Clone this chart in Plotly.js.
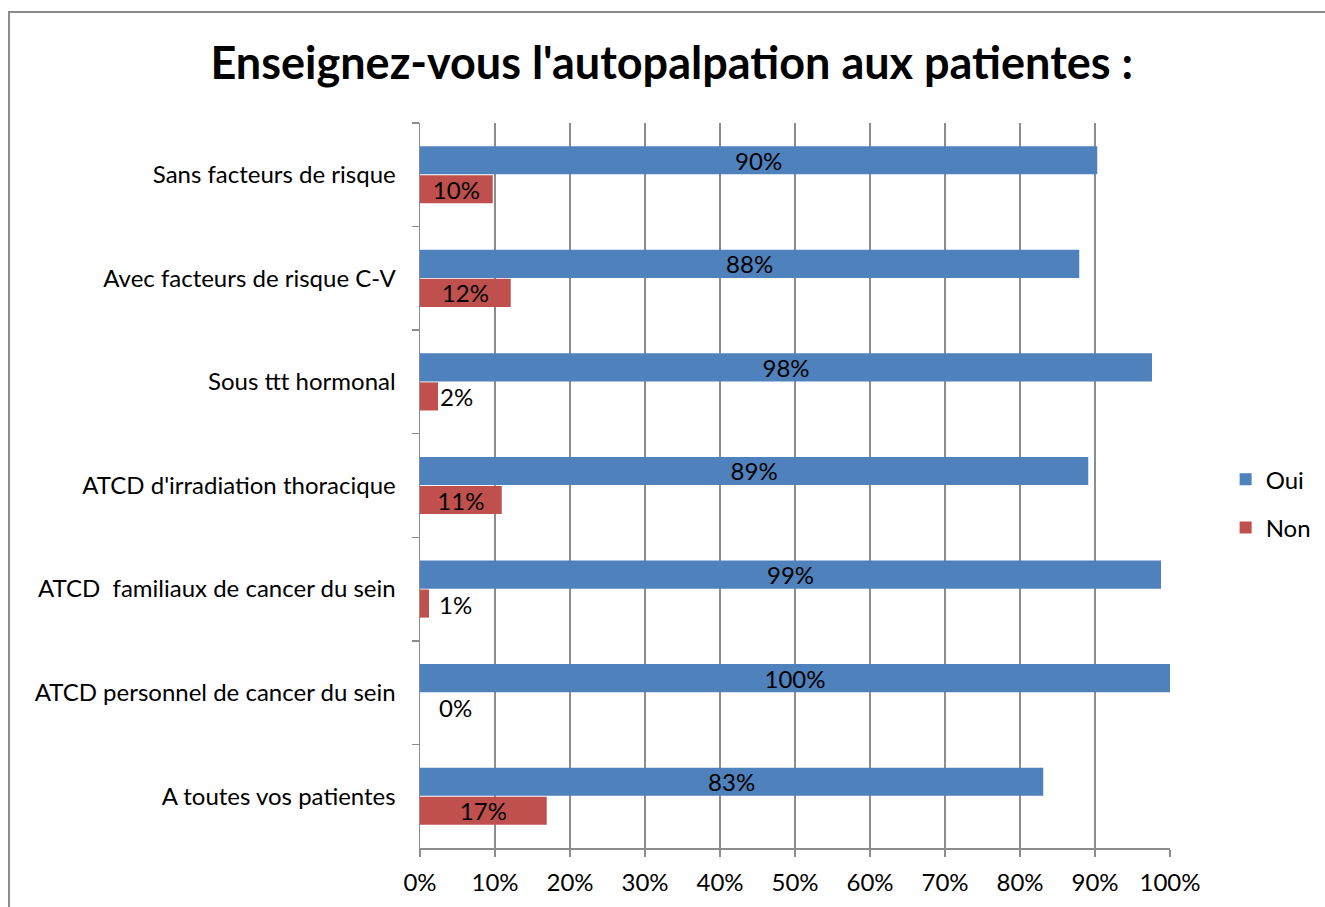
<!DOCTYPE html>
<html><head><meta charset="utf-8">
<script src="https://cdn.plot.ly/plotly-3.0.1.min.js"></script>
<style>
html,body{margin:0;padding:0;background:#fff;overflow:hidden;}
#frame{position:absolute;left:8px;top:11px;width:1400px;height:1000px;border:2px solid #8c8c8c;box-sizing:border-box;}
#chart{position:absolute;left:0;top:0;width:1325px;height:907px;}
</style></head>
<body>
<div id="frame"></div>
<div id="chart"></div>
<script>
const categories = [
  "Sans facteurs de risque",
  "Avec facteurs de risque C-V",
  "Sous ttt hormonal",
  "ATCD d'irradiation thoracique",
  "ATCD  familiaux de cancer du sein",
  "ATCD personnel de cancer du sein",
  "A toutes vos patientes"
];
const oui = [90.3, 87.9, 97.6, 89.1, 98.8, 100, 83.1];
const non = [9.7, 12.1, 2.4, 10.9, 1.2, 0, 16.9];
const xTickVals = [0,10,20,30,40,50,60,70,80,90,100];
const xTickText = ["0%","10%","20%","30%","40%","50%","60%","70%","80%","90%","100%"];

const F = "Lato, 'Open Sans', sans-serif";
const FS = 24;
const labelFont = {family: F, size: FS, color: "#000"};
const SMALL = 5;

const traceOui = {
  type: "bar", orientation: "h", name: "Oui",
  y: categories, x: oui,
  marker: {color: "#4F81BD"},
  text: oui.map(v => Math.round(v) + "%"),
  textposition: "inside", insidetextanchor: "middle", constraintext: "none",
  textfont: labelFont, insidetextfont: labelFont,
  hoverinfo: "none", legendgroup: "a"
};
const traceNon = {
  type: "bar", orientation: "h", name: "Non",
  y: categories, x: non,
  marker: {color: "#C0504D"},
  text: non.map(v => v < SMALL ? "" : Math.round(v) + "%"),
  textposition: "inside", insidetextanchor: "middle", constraintext: "none",
  textfont: labelFont, insidetextfont: labelFont,
  hoverinfo: "none", legendgroup: "b"
};

// labels for very small "Non" bars, placed just right of the axis like the original
const smallAnn = [];
non.forEach((v, i) => {
  if (v < SMALL) {
    smallAnn.push({
      x: Math.max(v, 2.2), y: categories[i], xref: "x", yref: "y",
      text: Math.round(v) + "%", showarrow: false, xanchor: "left",
      yshift: -15, font: labelFont
    });
  }
});

const layout = {
  width: 1325, height: 907,
  paper_bgcolor: "rgba(0,0,0,0)", plot_bgcolor: "rgba(0,0,0,0)",
  margin: {l: 420, r: 155, t: 123, b: 59, pad: 0, autoexpand: false},
  title: {text: "Enseignez-vous l'autopalpation aux patientes :",
          font: {family: F, size: 45, color: "#000", weight: "bold"},
          x: 0.507, xref: "container", xanchor: "center", y: 0.93, yref: "container", yanchor: "middle"},
  barmode: "group", bargap: 0.44, bargroupgap: 0.03,
  xaxis: {
    range: [0, 100], tickvals: xTickVals, ticktext: xTickText,
    showgrid: true, gridcolor: "#8c8c8c", gridwidth: 1.5,
    showline: true, linecolor: "#8c8c8c", linewidth: 1.5,
    ticks: "outside", ticklen: 7, tickcolor: "#8c8c8c", tickwidth: 1.5,
    tickfont: {family: F, size: FS, color: "#000"},
    ticklabelstandoff: 6,
    zeroline: false, fixedrange: true, automargin: false
  },
  yaxis: {
    type: "category", autorange: "reversed",
    showline: true, linecolor: "#8c8c8c", linewidth: 1.5,
    ticks: "outside", tickson: "boundaries", ticklen: 7, tickcolor: "#8c8c8c", tickwidth: 1.5,
    tickfont: {family: F, size: FS, color: "#000"},
    ticklabelstandoff: 18,
    showgrid: false, zeroline: false, fixedrange: true, automargin: false
  },
  annotations: smallAnn,
  legend: {
    xref: "container", x: 0.925, xanchor: "left", y: 0.475, yanchor: "middle",
    font: {family: F, size: FS, color: "#000"},
    traceorder: "grouped", tracegroupgap: 14,
    itemwidth: 30, bgcolor: "rgba(0,0,0,0)"
  },
  showlegend: true
};

Plotly.newPlot("chart", [traceOui, traceNon], layout, {displayModeBar: false, staticPlot: true});
</script>
</body></html>
